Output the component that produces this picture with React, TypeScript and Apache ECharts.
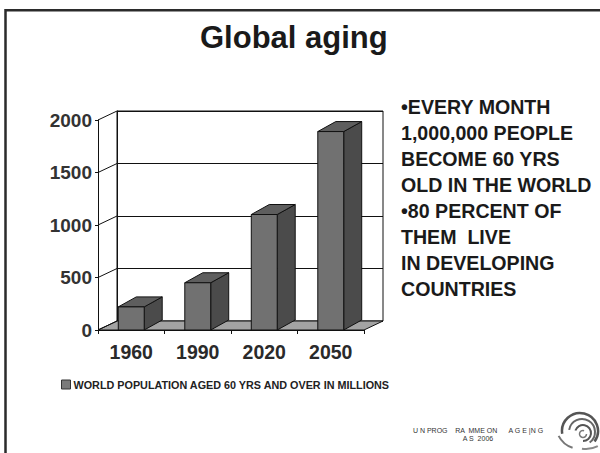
import React, { useEffect, useRef } from "react";
import * as echarts from "echarts";

const categories = ["1960", "1990", "2020", "2050"];
const populationAged60 = [220, 450, 1100, 1890];
const yTicks = [0, 500, 1000, 1500, 2000];
const seriesName = "WORLD POPULATION AGED 60 YRS AND OVER IN MILLIONS";
const titleText = "Global aging";
const notes = [
  "•EVERY MONTH",
  "1,000,000 PEOPLE",
  "BECOME 60 YRS",
  "OLD IN THE WORLD",
  "•80 PERCENT OF",
  "THEM  LIVE",
  "IN DEVELOPING",
  "COUNTRIES",
];
const footerLines = ["U N PROG    RA  MME ON      A G E |N G", "A S  2006"];

const FONT = "'Liberation Sans', Arial, Helvetica, sans-serif";
// depth offsets of the pseudo-3D box and columns
const WALL_DX = 19;
const WALL_DY = -9;
const BAR_DX = 18;
const BAR_DY = -10;

export default function App() {
  const ref = useRef<HTMLDivElement>(null);

  useEffect(() => {
    if (!ref.current) return;
    const chart = echarts.init(ref.current, undefined, { renderer: "svg" });

    const yMax = yTicks[yTicks.length - 1];
    const yStep = yTicks[1] - yTicks[0];

    const option: any = {
      animation: false,
      backgroundColor: "#ffffff",
      title: {
        text: titleText,
        left: 200,
        top: 22,
        padding: 0,
        textStyle: {
          fontFamily: FONT,
          fontSize: 31,
          fontWeight: "bold",
          color: "#1a1a1a",
        },
      },
      legend: {
        data: [seriesName],
        left: 61,
        top: 379,
        padding: 0,
        icon: "rect",
        itemWidth: 9,
        itemHeight: 9,
        itemGap: 4,
        itemStyle: { color: "#7a7a7a", borderColor: "#333", borderWidth: 1 },
        textStyle: {
          fontFamily: FONT,
          fontSize: 10.8,
          fontWeight: "bold",
          color: "#222",
          padding: [0, 0, 0, -2],
        },
      },
      grid: [
        // front plane: axes and labels
        { left: 98, right: 236, top: 120, bottom: 123 },
        // back wall
        {
          left: 98 + WALL_DX,
          right: 236 - WALL_DX,
          top: 120 + WALL_DY,
          bottom: 123 - WALL_DY,
          show: true,
          borderColor: "#111",
          borderWidth: 1,
          backgroundColor: "transparent",
        },
      ],
      xAxis: [
        {
          gridIndex: 0,
          type: "category",
          data: categories,
          boundaryGap: true,
          axisLine: { show: true, lineStyle: { color: "#111", width: 1 } },
          axisTick: { show: true, length: 4, lineStyle: { color: "#111" } },
          axisLabel: {
            margin: 12,
            fontFamily: FONT,
            fontSize: 19.5,
            fontWeight: "bold",
            color: "#2a2a2a",
            lineHeight: 19,
          },
        },
        {
          gridIndex: 1,
          type: "category",
          data: categories,
          show: false,
        },
      ],
      yAxis: [
        {
          gridIndex: 0,
          type: "value",
          min: 0,
          max: yMax,
          interval: yStep,
          axisLine: { show: true, lineStyle: { color: "#111", width: 1 } },
          axisTick: { show: true, length: 3, lineStyle: { color: "#111" } },
          splitLine: { show: false },
          axisLabel: {
            margin: 6,
            fontFamily: FONT,
            fontSize: 19,
            fontWeight: "bold",
            color: "#333",
            formatter: (v: number) => String(v),
          },
        },
        {
          gridIndex: 1,
          type: "value",
          min: 0,
          max: yMax,
          interval: yStep,
          axisLine: { show: true, lineStyle: { color: "#111", width: 1 } },
          axisTick: { show: false },
          axisLabel: { show: false },
          splitLine: { show: true, lineStyle: { color: "#111", width: 1 } },
        },
      ],
      series: [
        {
          // floor and the receding lines from each front tick to the back wall
          type: "custom",
          name: "frame",
          xAxisIndex: 0,
          yAxisIndex: 0,
          silent: true,
          z: 1,
          data: yTicks.map((v) => [0, v]),
          renderItem: (params: any, api: any) => {
            const v = api.value(1);
            const p = api.coord([0, v]);
            const band = api.size([1, 0])[0];
            const xl = p[0] - band / 2;
            const y = p[1];
            const children: any[] = [
              {
                type: "line",
                shape: { x1: xl, y1: y, x2: xl + WALL_DX, y2: y + WALL_DY },
                style: { stroke: "#111", lineWidth: 1 },
              },
            ];
            if (v === 0) {
              const xr = xl + band * categories.length;
              children.unshift({
                type: "polygon",
                shape: {
                  points: [
                    [xl, y],
                    [xr, y],
                    [xr + WALL_DX, y + WALL_DY],
                    [xl + WALL_DX, y + WALL_DY],
                  ],
                },
                style: { fill: "#a3a3a3", stroke: "#111", lineWidth: 1 },
              });
            }
            return { type: "group", children };
          },
        },
        {
          type: "custom",
          name: seriesName,
          xAxisIndex: 0,
          yAxisIndex: 0,
          z: 3,
          itemStyle: { color: "#7a7a7a" },
          data: categories.map((c, i) => [c, populationAged60[i]]),
          renderItem: (params: any, api: any) => {
            const xi = api.value(0);
            const v = api.value(1);
            const base = api.coord([xi, 0]);
            const top = api.coord([xi, v]);
            const band = api.size([1, 0])[0];
            const w = band * 0.39;
            const x0 = base[0] - w / 2;
            const x1 = base[0] + w / 2;
            const y0 = base[1];
            const y1 = top[1];
            const edge = { stroke: "#111", lineWidth: 1, lineJoin: "round" };
            return {
              type: "group",
              children: [
                {
                  type: "polygon",
                  shape: {
                    points: [
                      [x1, y1],
                      [x1 + BAR_DX, y1 + BAR_DY],
                      [x1 + BAR_DX, y0 + BAR_DY],
                      [x1, y0],
                    ],
                  },
                  style: { fill: "#4b4b4b", ...edge },
                },
                {
                  type: "polygon",
                  shape: {
                    points: [
                      [x0, y1],
                      [x0 + BAR_DX, y1 + BAR_DY],
                      [x1 + BAR_DX, y1 + BAR_DY],
                      [x1, y1],
                    ],
                  },
                  style: { fill: "#5e5e5e", ...edge },
                },
                {
                  type: "polygon",
                  shape: {
                    points: [
                      [x0, y1],
                      [x1, y1],
                      [x1, y0],
                      [x0, y0],
                    ],
                  },
                  style: { fill: "#717171", ...edge },
                },
              ],
            };
          },
        },
      ],
      graphic: [
        {
          // slide frame
          type: "rect",
          silent: true,
          shape: { x: 5.5, y: 10.3, width: 700, height: 700 },
          style: { fill: "none", stroke: "#2b2b2b", lineWidth: 2.5 },
          z: 10,
        },
        {
          type: "text",
          x: 401,
          y: 94,
          style: {
            text: notes.join("\n"),
            font: `bold 19.6px ${FONT}`,
            lineHeight: 26,
            fill: "#1a1a1a",
            verticalAlign: "top",
          },
        },
        {
          type: "text",
          x: 478,
          y: 426,
          style: {
            text: footerLines.join("\n"),
            font: `7px ${FONT}`,
            lineHeight: 8.5,
            fill: "#333",
            align: "center",
            textAlign: "center",
            verticalAlign: "top",
          },
        },
        {
          // ageing programme swirl emblem
          type: "group",
          x: 580,
          y: 431,
          silent: true,
          children: [
            {
              type: "arc",
              shape: { cx: 0, cy: 0, r: 18, startAngle: Math.PI * 0.95, endAngle: Math.PI * 2.2, clockwise: true },
              style: { stroke: "#555", lineWidth: 2.5, fill: "none" },
            },
            {
              type: "arc",
              shape: { cx: 2, cy: 1, r: 13, startAngle: Math.PI * 1.05, endAngle: Math.PI * 2.3, clockwise: true },
              style: { stroke: "#666", lineWidth: 2, fill: "none" },
            },
            {
              type: "arc",
              shape: { cx: 3, cy: 2, r: 8, startAngle: Math.PI * 1.1, endAngle: Math.PI * 2.5, clockwise: true },
              style: { stroke: "#555", lineWidth: 2, fill: "none" },
            },
            {
              type: "arc",
              shape: { cx: 3, cy: 3, r: 3.5, startAngle: 0, endAngle: Math.PI * 1.6, clockwise: true },
              style: { stroke: "#777", lineWidth: 1.5, fill: "none" },
            },
            {
              type: "arc",
              shape: { cx: 0, cy: -6, r: 24, startAngle: Math.PI * 0.6, endAngle: Math.PI * 0.85, clockwise: true },
              style: { stroke: "#777", lineWidth: 2, fill: "none" },
            },
            {
              type: "arc",
              shape: { cx: 6, cy: -8, r: 26, startAngle: Math.PI * 0.35, endAngle: Math.PI * 0.55, clockwise: true },
              style: { stroke: "#888", lineWidth: 2, fill: "none" },
            },
          ],
        },
      ],
    };

    chart.setOption(option);
    return () => chart.dispose();
  }, []);

  return (
    <div
      ref={ref}
      style={{ position: "fixed", left: 0, top: 0, width: 600, height: 453 }}
    />
  );
}
